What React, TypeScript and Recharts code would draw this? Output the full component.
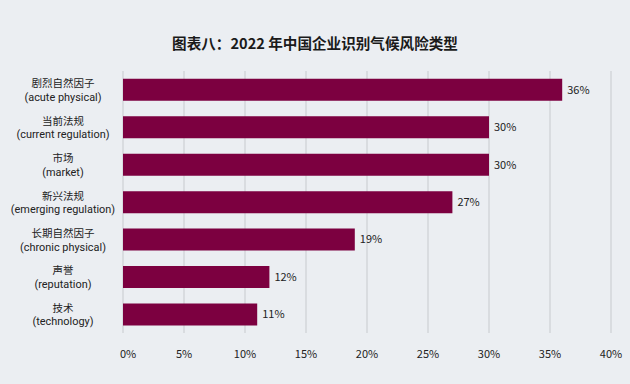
import { BarChart, Bar, XAxis, YAxis, CartesianGrid, LabelList } from 'recharts';

const categoriesZh = ['剧烈自然因子', '当前法规', '市场', '新兴法规', '长期自然因子', '声誉', '技术'];
const categoriesEn = [
  '(acute physical)',
  '(current regulation)',
  '(market)',
  '(emerging regulation)',
  '(chronic physical)',
  '(reputation)',
  '(technology)',
];
const shares = [36, 30, 30, 27, 19, 12, 11];
const xTicks = [0, 5, 10, 15, 20, 25, 30, 35, 40];

const FONT = '"Noto Sans CJK SC", "Noto Sans", sans-serif';
const LATIN = 'Roboto, "Noto Sans", sans-serif';
const BAR = '#7c0040';

const data = categoriesZh.map((zh, i) => ({ zh, en: categoriesEn[i], value: shares[i] }));

// two-line category label: chinese name over english name
function YTick({ y, payload }: any) {
  const row = data[payload.index] ?? data.find((d) => d.zh === payload.value);
  return (
    <g>
      <text x={63} y={y - 2.5} textAnchor="middle" fontSize={10.5} fill="#222" fontFamily={FONT}>
        {row?.zh}
      </text>
      <text x={63} y={y + 11.2} textAnchor="middle" fontSize={10.9} fill="#222" fontFamily={LATIN}>
        {row?.en}
      </text>
    </g>
  );
}

function XTick({ x, y, payload, index }: any) {
  return (
    <text
      x={x + (index === 0 ? 5 : 0)}
      y={y + 17}
      textAnchor="middle"
      fontSize={11}
      fill="#222"
      fontFamily={FONT}
    >
      {payload.value}%
    </text>
  );
}

export default function App() {
  return (
    <div
      style={{
        position: 'absolute',
        left: 0,
        top: 0,
        width: 630,
        height: 384,
        background: '#ebeef2',
        fontFamily: FONT,
      }}
    >
      <div
        style={{
          position: 'absolute',
          top: 33,
          left: 0,
          width: 630,
          textAlign: 'center',
          fontSize: 14.6,
          fontWeight: 700,
          color: '#1a1a1a',
          lineHeight: '20px',
        }}
      >
        图表八：2022 年中国企业识别气候风险类型
      </div>
      <BarChart
        width={630}
        height={384}
        data={data}
        layout="vertical"
        margin={{ top: 71, right: 19, bottom: 21, left: 0 }}
        barCategoryGap="21%"
      >
        <CartesianGrid horizontal={false} stroke="#d3d6da" strokeWidth={1.5} />
        <XAxis
          type="number"
          domain={[0, 40]}
          ticks={xTicks}
          axisLine={false}
          tickLine={false}
          height={30}
          tick={<XTick />}
          interval={0}
        />
        <YAxis
          type="category"
          dataKey="zh"
          width={123}
          axisLine={false}
          tickLine={false}
          tick={<YTick />}
          interval={0}
        />
        <Bar dataKey="value" fill={BAR} isAnimationActive={false}>
          <LabelList
            dataKey="value"
            position="right"
            offset={5}
            formatter={(v: any) => `${v}%`}
            style={{ fontSize: 11, fill: '#222', fontFamily: FONT }}
          />
        </Bar>
      </BarChart>
    </div>
  );
}
